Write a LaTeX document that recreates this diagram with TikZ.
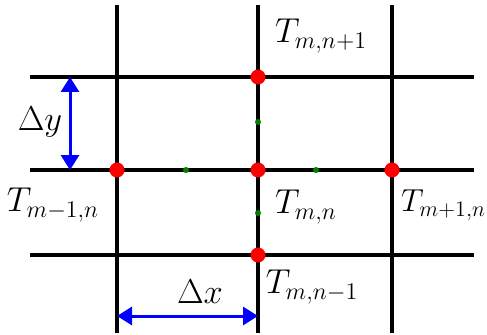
\documentclass[tikz,border=0pt]{standalone}
\usetikzlibrary{arrows.meta}
\begin{document}
\begin{tikzpicture}[x=0.6pt,y=-0.6pt,
    grid line/.style={line width=2.4pt,black},
    node dot/.style={circle,fill=red,inner sep=0pt,minimum size=9pt},
    half dot/.style={circle,fill=green!50!black,inner sep=0pt,minimum size=3.6pt},
    spacing/.style={blue,line width=1.8pt,{Triangle[width=10.8pt,length=9pt]}-{Triangle[width=10.8pt,length=9pt]}},
    lbl/.style={font=\huge,inner sep=0pt}]
    \useasboundingbox (0,0) rectangle (487,335);
    % grid lines
    \foreach \x in {117,258,392} \draw[grid line] (\x,5) -- (\x,333);
    \foreach \y in {77,170,255} \draw[grid line] (30,\y) -- (474,\y);
    % grid points
    \node[node dot] (Tup) at (258,77) {};
    \node[node dot] (Tleft) at (117,170) {};
    \node[node dot] (Tmid) at (258,170) {};
    \node[node dot] (Tright) at (392,170) {};
    \node[node dot] (Tdown) at (258,255) {};
    % midpoints
    \node[half dot] (Hup) at (258,122) {};
    \node[half dot] (Hleft) at (186,170) {};
    \node[half dot] (Hright) at (316,170) {};
    \node[half dot] (Hdown) at (258,213) {};
    % labels
    \node[lbl] (LTup) at (321,36) {$T_{m,n+1}$};
    \node[lbl] (LTleft) at (53,205) {$T_{m-1,n}$};
    \node[lbl] (LTmid) at (306,207) {$T_{m,n}$};
    \node[lbl,anchor=east,scale=0.92] (LTright) at (486,205) {$T_{m+1,n}$};
    \node[lbl] (LTdown) at (312,287) {$T_{m,n-1}$};
    % spacings
    \coordinate (dytop) at (70,77);
    \coordinate (dybot) at (70,170);
    \coordinate (dxleft) at (117,316);
    \coordinate (dxright) at (258,316);
    \draw[spacing] (dytop) -- (dybot);
    \draw[spacing] (dxleft) -- (dxright);
    \node[lbl] (Ldy) at (40,122) {$\Delta y$};
    \node[lbl] (Ldx) at (200,292) {$\Delta x$};
\end{tikzpicture}
\end{document}
